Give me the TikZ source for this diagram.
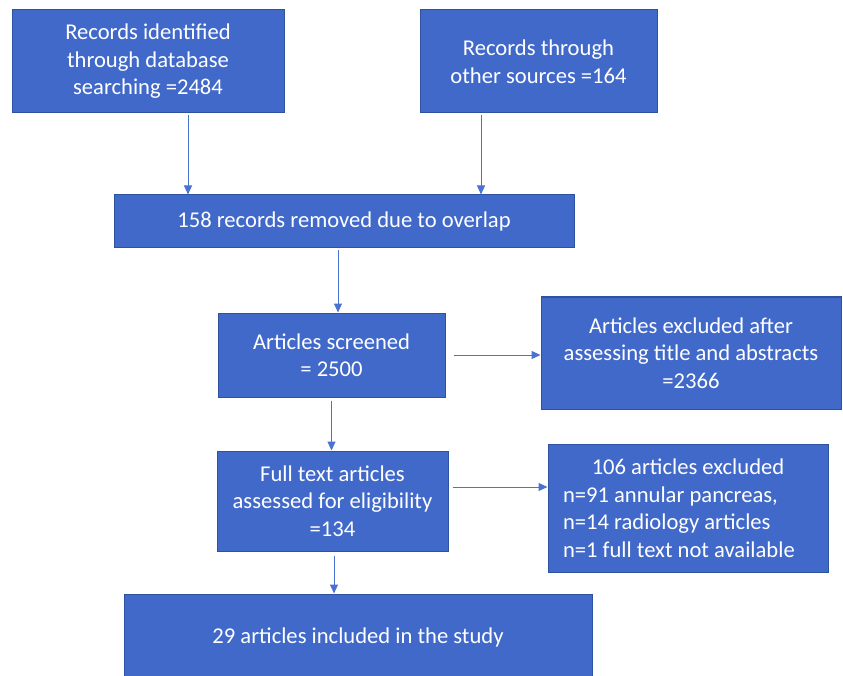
\documentclass[tikz,border=0pt]{standalone}
\usepackage{fontspec}
\setmainfont{Carlito}
\usetikzlibrary{arrows.meta}
\definecolor{boxblue}{HTML}{4169C9}
\definecolor{boxedge}{HTML}{2F52A0}
\definecolor{arrblue}{HTML}{4A72D0}
\begin{document}
\begin{tikzpicture}[x=1pt,y=1pt,
        box/.style={draw=boxedge,line width=1pt,fill=boxblue,text=white,align=center,
            inner sep=0pt,font=\fontsize{22.6}{27.5}\selectfont},
        arr/.style={draw=arrblue,line width=1pt,-{Triangle[width=8pt,length=9pt]}}]
        \useasboundingbox(0,0)rectangle(843,-676);
        \node[box,minimum width=272,minimum height=103](db)at(148,-61.5)
            {Records identified\\through database\\searching =2484};
        \node[box,minimum width=237,minimum height=103](other)at(538.5,-61.5)
            {Records through\\other sources =164};
        \node[box,minimum width=460,minimum height=53](overlap)at(344,-221.5)
            {158 records removed due to overlap};
        \node[box,minimum width=227,minimum height=84](screened)at(331.5,-355)
            {Articles screened\\= 2500};
        \node[box,minimum width=300,minimum height=112](excl)at(691,-353)
            {Articles excluded after\\assessing title and abstracts\\=2366};
        \node[box,minimum width=231,minimum height=100](full)at(332.5,-501)
            {Full text articles\\assessed for eligibility\\=134};
        \node[box,minimum width=280,minimum height=128,text width=250,align=flush left](excltwo)at(688,-508)
            {\makebox[250pt]{106 articles excluded}\\n=91 annular pancreas,\\n=14 radiology articles\\n=1 full text not available};
        \node[box,minimum width=468,minimum height=86](incl)at(358,-637)
            {29 articles included in the study};
        \draw[arr]([xshift=40,yshift=-2]db.south)--([xshift=40]db.south|-overlap.north);
        \draw[arr]([xshift=-57.5,yshift=-2]other.south)--([xshift=-57.5]other.south|-overlap.north);
        \draw[arr]([xshift=-6,yshift=-2]overlap.south)--([xshift=-6]overlap.south|-screened.north);
        \draw[arr]([xshift=8]screened.east)--(screened.east-|excl.west);
        \draw[arr]([yshift=-3]screened.south)--(screened.south|-full.north);
        \draw[arr]([xshift=4,yshift=14]full.east)--([yshift=14]full.east-|excltwo.west);
        \draw[arr]([xshift=1.5,yshift=-4]full.south)--([xshift=1.5]full.south|-incl.north);
\end{tikzpicture}
\end{document}
